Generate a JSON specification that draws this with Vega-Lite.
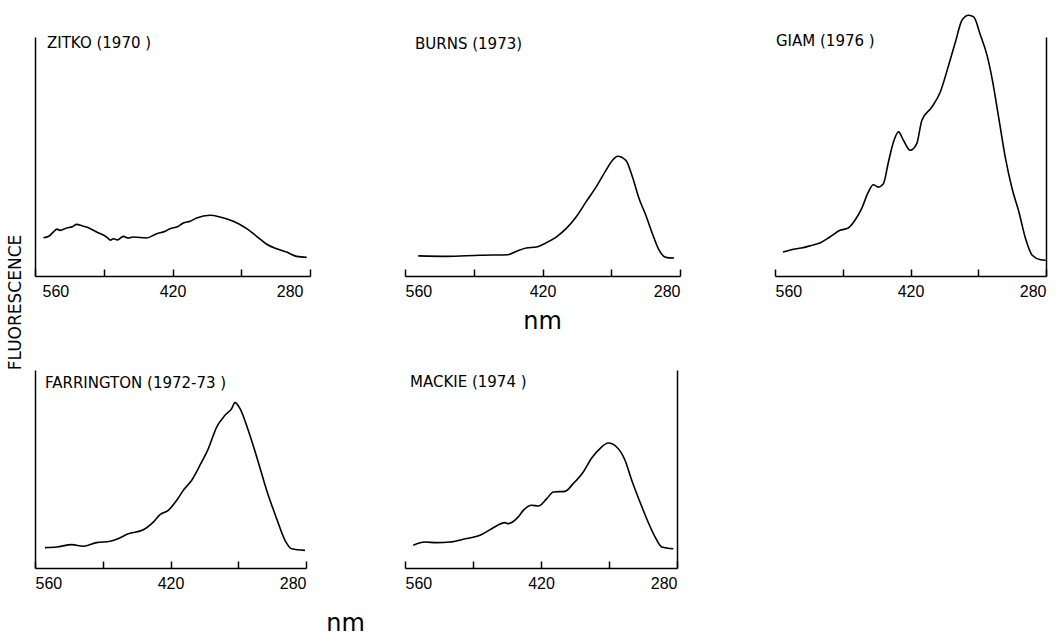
{
  "$schema": "https://vega.github.io/schema/vega-lite/v6.json",
  "padding": {"left": 6, "top": 12, "right": 0, "bottom": 0},
  "background": "white",
  "datasets": {
    "spectra": [
      {"study": "ZITKO", "nm": 551.5, "f": 16.0},
      {"study": "ZITKO", "nm": 546.0, "f": 16.6},
      {"study": "ZITKO", "nm": 541.4, "f": 18.4},
      {"study": "ZITKO", "nm": 537.5, "f": 19.6},
      {"study": "ZITKO", "nm": 534.5, "f": 19.1},
      {"study": "ZITKO", "nm": 527.7, "f": 20.1},
      {"study": "ZITKO", "nm": 522.0, "f": 20.6},
      {"study": "ZITKO", "nm": 517.5, "f": 21.6},
      {"study": "ZITKO", "nm": 512.0, "f": 21.0},
      {"study": "ZITKO", "nm": 507.4, "f": 20.5},
      {"study": "ZITKO", "nm": 497.2, "f": 18.4},
      {"study": "ZITKO", "nm": 487.0, "f": 16.3},
      {"study": "ZITKO", "nm": 483.0, "f": 15.0},
      {"study": "ZITKO", "nm": 480.3, "f": 15.6},
      {"study": "ZITKO", "nm": 476.0, "f": 15.1},
      {"study": "ZITKO", "nm": 470.1, "f": 16.6},
      {"study": "ZITKO", "nm": 465.0, "f": 15.9},
      {"study": "ZITKO", "nm": 459.9, "f": 16.3},
      {"study": "ZITKO", "nm": 446.3, "f": 15.9},
      {"study": "ZITKO", "nm": 436.1, "f": 17.7},
      {"study": "ZITKO", "nm": 428.0, "f": 18.6},
      {"study": "ZITKO", "nm": 422.5, "f": 19.8},
      {"study": "ZITKO", "nm": 415.0, "f": 20.6},
      {"study": "ZITKO", "nm": 409.0, "f": 22.2},
      {"study": "ZITKO", "nm": 402.0, "f": 22.9},
      {"study": "ZITKO", "nm": 395.4, "f": 24.3},
      {"study": "ZITKO", "nm": 381.8, "f": 25.4},
      {"study": "ZITKO", "nm": 371.6, "f": 24.7},
      {"study": "ZITKO", "nm": 358.1, "f": 22.9},
      {"study": "ZITKO", "nm": 344.4, "f": 19.8},
      {"study": "ZITKO", "nm": 334.3, "f": 16.6},
      {"study": "ZITKO", "nm": 324.1, "f": 13.3},
      {"study": "ZITKO", "nm": 313.9, "f": 11.4},
      {"study": "ZITKO", "nm": 303.7, "f": 10.0},
      {"study": "ZITKO", "nm": 293.5, "f": 8.2},
      {"study": "ZITKO", "nm": 283.4, "f": 7.8},

      {"study": "BURNS", "nm": 546.5, "f": 8.4},
      {"study": "BURNS", "nm": 517.7, "f": 8.2},
      {"study": "BURNS", "nm": 483.9, "f": 8.7},
      {"study": "BURNS", "nm": 455.2, "f": 8.9},
      {"study": "BURNS", "nm": 446.7, "f": 10.3},
      {"study": "BURNS", "nm": 436.5, "f": 11.7},
      {"study": "BURNS", "nm": 426.4, "f": 12.1},
      {"study": "BURNS", "nm": 416.2, "f": 13.9},
      {"study": "BURNS", "nm": 406.1, "f": 16.3},
      {"study": "BURNS", "nm": 396.0, "f": 19.8},
      {"study": "BURNS", "nm": 385.8, "f": 24.7},
      {"study": "BURNS", "nm": 375.7, "f": 31.0},
      {"study": "BURNS", "nm": 365.5, "f": 37.2},
      {"study": "BURNS", "nm": 355.4, "f": 44.2},
      {"study": "BURNS", "nm": 348.7, "f": 48.4},
      {"study": "BURNS", "nm": 343.6, "f": 50.1},
      {"study": "BURNS", "nm": 335.1, "f": 48.4},
      {"study": "BURNS", "nm": 328.4, "f": 41.4},
      {"study": "BURNS", "nm": 321.6, "f": 32.3},
      {"study": "BURNS", "nm": 314.8, "f": 25.4},
      {"study": "BURNS", "nm": 308.1, "f": 17.7},
      {"study": "BURNS", "nm": 301.3, "f": 10.8},
      {"study": "BURNS", "nm": 294.5, "f": 7.8},
      {"study": "BURNS", "nm": 286.1, "f": 7.5},

      {"study": "GIAM", "nm": 551.7, "f": 10.0},
      {"study": "GIAM", "nm": 543.1, "f": 11.0},
      {"study": "GIAM", "nm": 532.7, "f": 11.7},
      {"study": "GIAM", "nm": 522.4, "f": 12.8},
      {"study": "GIAM", "nm": 513.6, "f": 13.8},
      {"study": "GIAM", "nm": 503.3, "f": 16.3},
      {"study": "GIAM", "nm": 492.9, "f": 19.1},
      {"study": "GIAM", "nm": 484.3, "f": 20.1},
      {"study": "GIAM", "nm": 477.4, "f": 23.3},
      {"study": "GIAM", "nm": 470.5, "f": 28.2},
      {"study": "GIAM", "nm": 463.6, "f": 35.1},
      {"study": "GIAM", "nm": 458.4, "f": 38.2},
      {"study": "GIAM", "nm": 453.2, "f": 37.2},
      {"study": "GIAM", "nm": 448.0, "f": 38.6},
      {"study": "GIAM", "nm": 442.8, "f": 47.7},
      {"study": "GIAM", "nm": 437.6, "f": 56.1},
      {"study": "GIAM", "nm": 432.4, "f": 60.3},
      {"study": "GIAM", "nm": 427.3, "f": 56.8},
      {"study": "GIAM", "nm": 420.3, "f": 52.6},
      {"study": "GIAM", "nm": 413.5, "f": 55.4},
      {"study": "GIAM", "nm": 408.3, "f": 65.1},
      {"study": "GIAM", "nm": 397.9, "f": 70.7},
      {"study": "GIAM", "nm": 389.2, "f": 77.0},
      {"study": "GIAM", "nm": 380.6, "f": 88.2},
      {"study": "GIAM", "nm": 373.6, "f": 97.9},
      {"study": "GIAM", "nm": 366.8, "f": 107.0},
      {"study": "GIAM", "nm": 359.9, "f": 109.1},
      {"study": "GIAM", "nm": 354.7, "f": 108.4},
      {"study": "GIAM", "nm": 347.7, "f": 100.7},
      {"study": "GIAM", "nm": 340.9, "f": 92.3},
      {"study": "GIAM", "nm": 335.7, "f": 82.6},
      {"study": "GIAM", "nm": 328.7, "f": 65.8},
      {"study": "GIAM", "nm": 321.8, "f": 49.1},
      {"study": "GIAM", "nm": 315.0, "f": 36.5},
      {"study": "GIAM", "nm": 308.0, "f": 26.8},
      {"study": "GIAM", "nm": 301.1, "f": 15.6},
      {"study": "GIAM", "nm": 294.2, "f": 8.7},
      {"study": "GIAM", "nm": 285.5, "f": 6.8},
      {"study": "GIAM", "nm": 280.3, "f": 6.6},

      {"study": "FARRINGTON", "nm": 549.7, "f": 10.3},
      {"study": "FARRINGTON", "nm": 537.6, "f": 10.6},
      {"study": "FARRINGTON", "nm": 522.1, "f": 11.8},
      {"study": "FARRINGTON", "nm": 510.1, "f": 11.0},
      {"study": "FARRINGTON", "nm": 496.3, "f": 12.8},
      {"study": "FARRINGTON", "nm": 482.5, "f": 13.5},
      {"study": "FARRINGTON", "nm": 475.6, "f": 14.5},
      {"study": "FARRINGTON", "nm": 463.6, "f": 17.3},
      {"study": "FARRINGTON", "nm": 448.1, "f": 19.3},
      {"study": "FARRINGTON", "nm": 437.8, "f": 23.2},
      {"study": "FARRINGTON", "nm": 430.8, "f": 26.9},
      {"study": "FARRINGTON", "nm": 422.3, "f": 29.1},
      {"study": "FARRINGTON", "nm": 413.6, "f": 34.2},
      {"study": "FARRINGTON", "nm": 406.8, "f": 39.2},
      {"study": "FARRINGTON", "nm": 398.1, "f": 44.3},
      {"study": "FARRINGTON", "nm": 389.5, "f": 51.9},
      {"study": "FARRINGTON", "nm": 380.9, "f": 60.3},
      {"study": "FARRINGTON", "nm": 372.3, "f": 71.2},
      {"study": "FARRINGTON", "nm": 363.7, "f": 77.1},
      {"study": "FARRINGTON", "nm": 356.8, "f": 80.5},
      {"study": "FARRINGTON", "nm": 353.4, "f": 83.5},
      {"study": "FARRINGTON", "nm": 348.2, "f": 80.5},
      {"study": "FARRINGTON", "nm": 339.6, "f": 69.5},
      {"study": "FARRINGTON", "nm": 330.9, "f": 56.1},
      {"study": "FARRINGTON", "nm": 320.6, "f": 39.2},
      {"study": "FARRINGTON", "nm": 310.3, "f": 24.9},
      {"study": "FARRINGTON", "nm": 301.7, "f": 14.0},
      {"study": "FARRINGTON", "nm": 294.8, "f": 9.7},
      {"study": "FARRINGTON", "nm": 281.0, "f": 8.9},

      {"study": "MACKIE", "nm": 551.5, "f": 11.5},
      {"study": "MACKIE", "nm": 539.4, "f": 13.1},
      {"study": "MACKIE", "nm": 527.4, "f": 12.8},
      {"study": "MACKIE", "nm": 513.7, "f": 13.1},
      {"study": "MACKIE", "nm": 500.0, "f": 14.5},
      {"study": "MACKIE", "nm": 482.8, "f": 16.5},
      {"study": "MACKIE", "nm": 470.8, "f": 19.8},
      {"study": "MACKIE", "nm": 457.1, "f": 22.9},
      {"study": "MACKIE", "nm": 453.7, "f": 22.4},
      {"study": "MACKIE", "nm": 443.4, "f": 25.8},
      {"study": "MACKIE", "nm": 438.2, "f": 29.1},
      {"study": "MACKIE", "nm": 429.6, "f": 31.7},
      {"study": "MACKIE", "nm": 422.8, "f": 31.3},
      {"study": "MACKIE", "nm": 414.1, "f": 35.0},
      {"study": "MACKIE", "nm": 407.3, "f": 38.4},
      {"study": "MACKIE", "nm": 395.3, "f": 38.7},
      {"study": "MACKIE", "nm": 386.8, "f": 42.6},
      {"study": "MACKIE", "nm": 376.5, "f": 48.5},
      {"study": "MACKIE", "nm": 367.8, "f": 55.6},
      {"study": "MACKIE", "nm": 359.3, "f": 60.3},
      {"study": "MACKIE", "nm": 350.7, "f": 63.1},
      {"study": "MACKIE", "nm": 342.1, "f": 61.1},
      {"study": "MACKIE", "nm": 333.5, "f": 54.4},
      {"study": "MACKIE", "nm": 326.6, "f": 44.3},
      {"study": "MACKIE", "nm": 318.1, "f": 33.3},
      {"study": "MACKIE", "nm": 311.2, "f": 24.9},
      {"study": "MACKIE", "nm": 302.6, "f": 15.7},
      {"study": "MACKIE", "nm": 295.7, "f": 10.6},
      {"study": "MACKIE", "nm": 283.8, "f": 9.7}
    ]
  },
  "bounds": "flush",
  "columns": 3,
  "spacing": {"row": 94, "column": 95},
  "concat": [
    {
      "width": 275,
      "height": 239,
      "title": {"text": "ZITKO (1970 )", "offset": -14, "dx": 12},
      "data": {"name": "spectra"},
      "transform": [{"filter": "datum.study === 'ZITKO'"}],
      "mark": {"type": "line", "color": "black", "strokeWidth": 1.6, "interpolate": "monotone"},
      "encoding": {
        "x": {"field": "nm", "type": "quantitative",
              "scale": {"domain": [280, 560], "reverse": true, "nice": false, "zero": false},
              "axis": {"values": [560, 490, 420, 350, 280], "labelExpr": "datum.value % 140 === 0 ? datum.label : ''", "title": null, "labelFlushOffset": -7}},
        "y": {"field": "f", "type": "quantitative",
              "scale": {"domain": [0, 100], "nice": false},
              "axis": {"orient": "left", "ticks": false, "labels": false,
                       "title": "FLUORESCENCE", "titleAngle": 270, "titleX": -20, "titleY": 265,
                       "titleAlign": "center", "titleBaseline": "middle",
                       "titleFont": "DejaVu Sans", "titleFontSize": 17, "titleFontWeight": "normal", "titleColor": "black"}}
      }
    },
    {
      "width": 275,
      "height": 239,
      "title": {"text": "BURNS (1973)", "offset": -15, "dx": 10},
      "data": {"name": "spectra"},
      "transform": [{"filter": "datum.study === 'BURNS'"}],
      "mark": {"type": "line", "color": "black", "strokeWidth": 1.6, "interpolate": "monotone"},
      "encoding": {
        "x": {"field": "nm", "type": "quantitative",
              "scale": {"domain": [280, 560], "reverse": true, "nice": false, "zero": false},
              "axis": {"values": [560, 490, 420, 350, 280], "labelExpr": "datum.value % 140 === 0 ? datum.label : ''",
                       "title": "nm", "titleX": 137, "titleY": 52, "titleAlign": "center", "titleBaseline": "alphabetic",
                       "titleFont": "DejaVu Sans", "titleFontSize": 24, "titleFontWeight": "normal", "titleColor": "black"}},
        "y": {"field": "f", "type": "quantitative",
              "scale": {"domain": [0, 100], "nice": false}, "axis": null}
      }
    },
    {
      "width": 271,
      "height": 239,
      "title": {"text": "GIAM (1976 )", "offset": -37, "dx": 1},
      "data": {"name": "spectra"},
      "transform": [{"filter": "datum.study === 'GIAM'"}],
      "mark": {"type": "line", "color": "black", "strokeWidth": 1.6, "interpolate": "monotone"},
      "encoding": {
        "x": {"field": "nm", "type": "quantitative",
              "scale": {"domain": [280, 560], "reverse": true, "nice": false, "zero": false},
              "axis": {"values": [560, 490, 420, 350, 280], "labelExpr": "datum.value % 140 === 0 ? datum.label : ''", "title": null}},
        "y": {"field": "f", "type": "quantitative",
              "scale": {"domain": [0, 100], "nice": false},
              "axis": {"orient": "right", "ticks": false, "labels": false, "title": null}}
      }
    },
    {
      "width": 271,
      "height": 198,
      "title": {"text": "FARRINGTON (1972-73 )", "offset": -21, "dx": 10},
      "data": {"name": "spectra"},
      "transform": [{"filter": "datum.study === 'FARRINGTON'"}],
      "mark": {"type": "line", "color": "black", "strokeWidth": 1.6, "interpolate": "monotone"},
      "encoding": {
        "x": {"field": "nm", "type": "quantitative",
              "scale": {"domain": [280, 560], "reverse": true, "nice": false, "zero": false},
              "axis": {"values": [560, 490, 420, 350, 280], "labelExpr": "datum.value % 140 === 0 ? datum.label : ''",
                       "title": "nm", "titleX": 310, "titleY": 62, "titleAlign": "center", "titleBaseline": "alphabetic",
                       "titleFont": "DejaVu Sans", "titleFontSize": 24, "titleFontWeight": "normal", "titleColor": "black"}},
        "y": {"field": "f", "type": "quantitative",
              "scale": {"domain": [0, 100], "nice": false},
              "axis": {"orient": "left", "ticks": false, "labels": false, "title": null}}
      }
    },
    {
      "width": 272,
      "height": 198,
      "title": {"text": "MACKIE (1974 )", "offset": -20, "dx": 5},
      "data": {"name": "spectra"},
      "transform": [{"filter": "datum.study === 'MACKIE'"}],
      "mark": {"type": "line", "color": "black", "strokeWidth": 1.6, "interpolate": "monotone"},
      "encoding": {
        "x": {"field": "nm", "type": "quantitative",
              "scale": {"domain": [280, 560], "reverse": true, "nice": false, "zero": false},
              "axis": {"values": [560, 490, 420, 350, 280], "labelExpr": "datum.value % 140 === 0 ? datum.label : ''", "title": null}},
        "y": {"field": "f", "type": "quantitative",
              "scale": {"domain": [0, 100], "nice": false},
              "axis": {"orient": "right", "ticks": false, "labels": false, "title": null}}
      }
    }
  ],
  "config": {
    "view": {"stroke": null},
    "axis": {
      "grid": false,
      "domainColor": "black",
      "domainWidth": 1.5,
      "tickColor": "black",
      "tickWidth": 1.5,
      "tickSize": -7,
      "labelPadding": 14,
      "labelFlush": true,
      "labelOverlap": false,
      "labelColor": "black",
      "labelFont": "Liberation Sans",
      "labelFontSize": 16
    },
    "title": {
      "anchor": "start",
      "frame": "group",
      "font": "DejaVu Sans",
      "fontSize": 15,
      "fontWeight": "normal",
      "color": "black"
    }
  }
}
